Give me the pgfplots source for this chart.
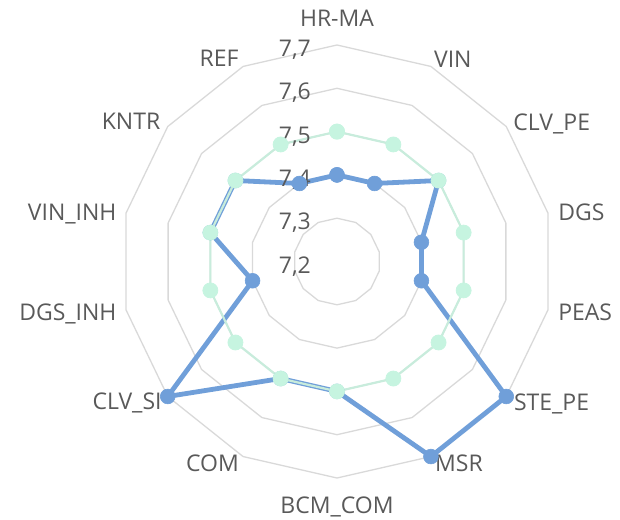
\documentclass[border=0pt]{standalone}
\usepackage{fontspec}
\setmainfont{Open Sans}
\usepackage{pgfplots}
\pgfplotsset{compat=1.18}
\usepgfplotslibrary{polar}
\definecolor{bl}{RGB}{112,159,217}
\definecolor{grm}{RGB}{198,244,224}
\definecolor{grl}{RGB}{200,236,220}
\definecolor{gridc}{RGB}{217,217,217}
\definecolor{txt}{RGB}{89,89,89}
\begin{document}
\begin{tikzpicture}[
  cat/.style={text=txt, font=\fontsize{23}{27}\selectfont, inner sep=0pt},
  val/.style={anchor=base east, text=txt, font=\fontsize{23}{27}\selectfont, xshift=-26pt, yshift=-11.5pt, inner sep=0pt},
]
\begin{polaraxis}[
  scale only axis, width=433pt, height=433pt,
  y coord trafo/.code={\pgfmathparse{#1-7.2}},
  y coord inv trafo/.code={\pgfmathparse{#1+7.2}},
  ymin=7.2, ymax=7.7,
  xmin=0, xmax=360,
  axis line style={draw=none},
  xtick=\empty, ytick=\empty,
  major tick length=0pt,
  grid=none,
  clip=false,
]
\pgfplotsinvokeforeach{7.3,7.4,7.5,7.6,7.7}{
\addplot[gridc, line width=1.3pt, no marks] coordinates {(90,#1) (64.2857,#1) (38.5714,#1) (12.8571,#1) (347.1429,#1) (321.4286,#1) (295.7143,#1) (270,#1) (244.2857,#1) (218.5714,#1) (192.8571,#1) (167.1429,#1) (141.4286,#1) (115.7143,#1) (90,#1)};
}
% series 1 (blue)
\addplot[bl, line width=4.8pt, line join=round, mark=*, mark size=7.4pt, mark options={fill=bl, draw=bl, line width=0.6pt}] coordinates {
(90,7.40) (64.2857,7.40) (38.5714,7.50) (12.8571,7.40) (347.1429,7.40) (321.4286,7.70) (295.7143,7.70) (270,7.50) (244.2857,7.50) (218.5714,7.70) (192.8571,7.40) (167.1429,7.50) (141.4286,7.50) (115.7143,7.40) (90,7.40)};
% series 2 (green)
\addplot[grl, line width=2.2pt, line join=round, mark=*, mark size=7.5pt, mark options={fill=grm, draw=grm, line width=0.8pt}] coordinates {
(90,7.50) (64.2857,7.50) (38.5714,7.50) (12.8571,7.50) (347.1429,7.50) (321.4286,7.50) (295.7143,7.50) (270,7.50) (244.2857,7.50) (218.5714,7.50) (192.8571,7.50) (167.1429,7.50) (141.4286,7.50) (115.7143,7.50) (90,7.50)};
% radial value labels
\node[val] at (axis cs:90,7.2) {7,2};
\node[val] at (axis cs:90,7.3) {7,3};
\node[val] at (axis cs:90,7.4) {7,4};
\node[val] at (axis cs:90,7.5) {7,5};
\node[val] at (axis cs:90,7.6) {7,6};
\node[val] at (axis cs:90,7.7) {7,7};
% category labels
\node[cat, anchor=base, yshift=18.3pt] at (axis cs:90,7.7) {HR-MA};
\node[cat, anchor=base west, xshift=3pt, yshift=-1pt] at (axis cs:64.2857,7.7) {VIN};
\node[cat, anchor=base west, xshift=7pt, yshift=-4pt] at (axis cs:38.5714,7.7) {CLV\_PE};
\node[cat, anchor=base west, xshift=10pt, yshift=-7pt] at (axis cs:12.8571,7.7) {DGS};
\node[cat, anchor=base west, xshift=10pt, yshift=-11pt] at (axis cs:347.1429,7.7) {PEAS};
\node[cat, anchor=base west, xshift=7.6pt, yshift=-14pt] at (axis cs:321.4286,7.7) {STE\_PE};
\node[cat, anchor=base west, xshift=4pt, yshift=-15pt] at (axis cs:295.7143,7.7) {MSR};
\node[cat, anchor=base, yshift=-35pt] at (axis cs:270,7.7) {BCM\_COM};
\node[cat, anchor=base east, xshift=-4pt, yshift=-15pt] at (axis cs:244.2857,7.7) {COM};
\node[cat, anchor=base east, xshift=-6pt, yshift=-13pt] at (axis cs:218.5714,7.7) {CLV\_SI};
\node[cat, anchor=base east, xshift=-9.3pt, yshift=-11pt] at (axis cs:192.8571,7.7) {DGS\_INH};
\node[cat, anchor=base east, xshift=-9.3pt, yshift=-7pt] at (axis cs:167.1429,7.7) {VIN\_INH};
\node[cat, anchor=base east, xshift=-7.3pt, yshift=-3pt] at (axis cs:141.4286,7.7) {KNTR};
\node[cat, anchor=base east, xshift=-4.3pt, yshift=-0.4pt] at (axis cs:115.7143,7.7) {REF};
\end{polaraxis}
\coordinate (c) at (current axis.center);
\pgfresetboundingbox
\path ([shift={(-337pt,261.5pt)}]c) rectangle ([shift={(283pt,-257.5pt)}]c);
\end{tikzpicture}
\end{document}
